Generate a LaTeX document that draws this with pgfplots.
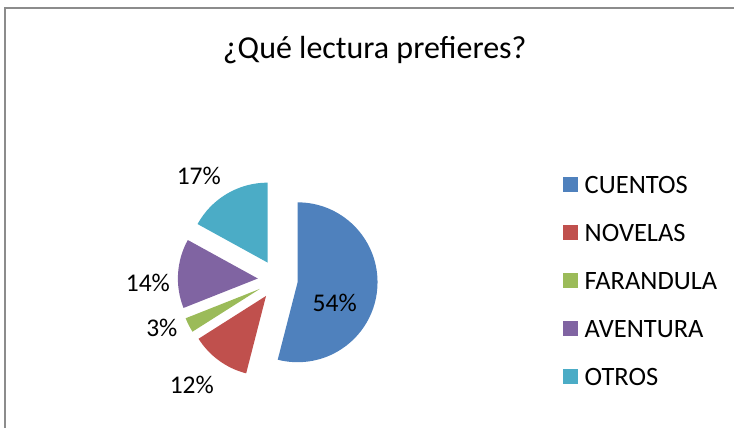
\documentclass[border=0pt]{standalone}
\usepackage{pgfplots}
\usepackage{pgfplotstable}
\pgfplotsset{compat=1.18}
\usepackage{fontspec}
\setmainfont{Carlito}

\definecolor{c0}{HTML}{4F81BD}
\definecolor{c1}{HTML}{C0504D}
\definecolor{c2}{HTML}{9BBB59}
\definecolor{c3}{HTML}{8064A2}
\definecolor{c4}{HTML}{4BACC6}
\definecolor{frame}{HTML}{8C8C8C}

\pgfplotstableread{
label     value
CUENTOS   54
NOVELAS   12
FARANDULA 3
AVENTURA  14
OTROS     17
}\piedata

\begin{document}
\begin{tikzpicture}
% slice angles: start at 12 o'clock, clockwise
\def\cumsum{0}
\pgfplotsforeachungrouped \i in {0,...,4}{%
  \pgfplotstablegetelem{\i}{label}\of\piedata
  \expandafter\xdef\csname lab\i\endcsname{\pgfplotsretval}%
  \pgfplotstablegetelem{\i}{value}\of\piedata
  \let\v\pgfplotsretval
  \pgfmathsetmacro\sa{90-3.6*\cumsum}%
  \pgfmathsetmacro\cumsum{\cumsum+\v}%
  \pgfmathsetmacro\ea{90-3.6*\cumsum}%
  \pgfmathsetmacro\ma{(\sa+\ea)/2}%
  \expandafter\xdef\csname sa\i\endcsname{\sa}%
  \expandafter\xdef\csname ea\i\endcsname{\ea}%
  \expandafter\xdef\csname ma\i\endcsname{\ma}%
}
\begin{axis}[
  width=735pt, height=428pt, scale only axis,
  xmin=0, xmax=735, ymin=0, ymax=428,
  hide axis, clip=false,
]
\path (axis cs:0,0) rectangle (axis cs:735,428);
\draw[frame, line width=1.2pt] (axis cs:5,0) -- (axis cs:5,420) -- (axis cs:735,420);

\node[font=\fontsize{32}{38}\selectfont] at (axis cs:375,378) {¿Qué lectura prefieres?};

% exploded pie
\pgfplotsinvokeforeach{0,...,4}{
  \fill[c#1] (axis cs:278,148) ++(\csname ma#1\endcsname:20pt)
    -- ++(\csname sa#1\endcsname:80pt)
    arc[start angle=\csname sa#1\endcsname, end angle=\csname ea#1\endcsname, radius=80pt]
    -- cycle;
}

\begin{scope}[font=\fontsize{25.5}{30}\selectfont]
\node at (axis cs:335,125) {54\%};
\node at (axis cs:192,43)  {12\%};
\node at (axis cs:162,100) {3\%};
\node at (axis cs:148,145) {14\%};
\node at (axis cs:199,252) {17\%};
\end{scope}

% legend
\pgfplotsinvokeforeach{0,...,4}{
  \fill[c#1] (axis cs:563,{243-48*#1-7.5}) rectangle (axis cs:578,{243-48*#1+7.5});
  \node[anchor=west, inner sep=0pt, font=\fontsize{26.5}{31}\selectfont]
    at (axis cs:585,{243-48*#1}) {\csname lab#1\endcsname};
}
\end{axis}
\end{tikzpicture}
\end{document}
